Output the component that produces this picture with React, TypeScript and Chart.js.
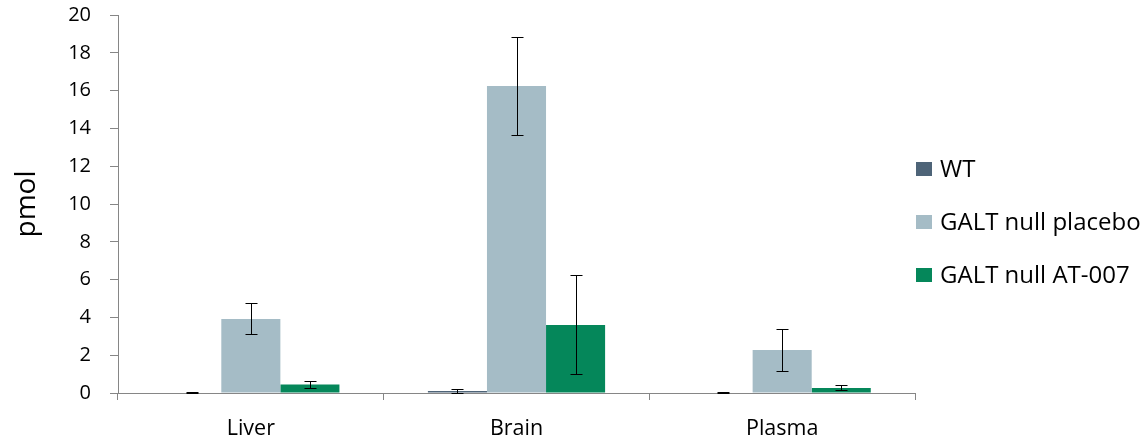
import React, { useEffect, useRef } from "react";
import { Chart, registerables } from "chart.js";

Chart.register(...registerables);

const categories = ["Liver", "Brain", "Plasma"];
const seriesNames = ["WT", "GALT null placebo", "GALT null AT-007"];
const wtValues = [0.03, 0.1, 0.02];
const placeboValues = [3.92, 16.25, 2.27];
const at007Values = [0.45, 3.6, 0.27];
const wtErr = [0.01, 0.1, 0.01];
const placeboErr = [0.82, 2.6, 1.1];
const at007Err = [0.2, 2.62, 0.13];
const yTicks = [0, 2, 4, 6, 8, 10, 12, 14, 16, 18, 20];
const colors = ["#4E6478", "#A5BCC6", "#05875A"];

const FONT = "'Open Sans', 'Noto Sans', sans-serif";

const errorBarPlugin = {
  id: "errorBars",
  afterDatasetsDraw(chart: any) {
    const ctx = chart.ctx;
    const y = chart.scales.y;
    const errs = [wtErr, placeboErr, at007Err];
    ctx.save();
    ctx.strokeStyle = "#000";
    ctx.lineWidth = 1;
    chart.data.datasets.forEach((ds: any, di: number) => {
      const meta = chart.getDatasetMeta(di);
      meta.data.forEach((bar: any, i: number) => {
        const v = ds.data[i];
        const e = errs[di][i];
        const yt = Math.round(y.getPixelForValue(v + e)) + 0.5;
        const yb = Math.round(y.getPixelForValue(Math.max(0, v - e))) + 0.5;
        const x = Math.round(bar.x) + 0.5;
        ctx.beginPath();
        ctx.moveTo(x, yt);
        ctx.lineTo(x, yb);
        ctx.moveTo(x - 6, yt);
        ctx.lineTo(x + 6, yt);
        ctx.moveTo(x - 6, yb);
        ctx.lineTo(x + 6, yb);
        ctx.stroke();
      });
    });
    ctx.restore();
  },
};

const legendPlugin = {
  id: "customLegend",
  afterDraw(chart: any) {
    const ctx = chart.ctx;
    const area = chart.chartArea;
    const x0 = area.right + 1;
    const rows = [169, 222, 275];
    ctx.save();
    ctx.font = `24px ${FONT}`;
    ctx.textBaseline = "middle";
    chart.data.datasets.forEach((ds: any, i: number) => {
      ctx.fillStyle = ds.backgroundColor;
      ctx.fillRect(x0, rows[i] - 7, 16, 14);
      ctx.fillStyle = "#000";
      ctx.fillText(ds.label, x0 + 24, rows[i] + 1);
    });
    ctx.restore();
  },
};

export default function App() {
  const ref = useRef<HTMLCanvasElement>(null);
  useEffect(() => {
    if (!ref.current) return;
    const chart = new Chart(ref.current, {
      type: "bar",
      data: {
        labels: categories,
        datasets: [
          { label: seriesNames[0], data: wtValues, backgroundColor: colors[0] },
          { label: seriesNames[1], data: placeboValues, backgroundColor: colors[1] },
          { label: seriesNames[2], data: at007Values, backgroundColor: colors[2] },
        ],
      },
      options: {
        animation: false,
        responsive: false,
        maintainAspectRatio: false,
        layout: { padding: { top: 15, right: 230, left: 0, bottom: 0 } },
        datasets: { bar: { categoryPercentage: 0.667, barPercentage: 1 } },
        plugins: { legend: { display: false }, tooltip: { enabled: false } },
        scales: {
          x: {
            grid: {
              display: true,
              drawOnChartArea: false,
              offset: true,
              tickLength: 7,
              color: "#868686",
            },
            border: { color: "#868686" },
            ticks: { color: "#000", font: { family: FONT, size: 21.5 }, padding: 16 },
            afterFit: (s: any) => {
              s.height = 50;
              s.paddingLeft = 0;
              s.paddingRight = 0;
            },
          },
          y: {
            min: 0,
            max: 20,
            afterBuildTicks: (s: any) => {
              s.ticks = yTicks.map((v) => ({ value: v }));
            },
            grid: { drawOnChartArea: false, tickLength: 8, color: "#868686" },
            border: { color: "#868686" },
            ticks: { color: "#000", font: { family: FONT, size: 20 }, padding: 19 },
            title: {
              display: true,
              text: "pmol",
              color: "#000",
              font: { family: FONT, size: 28 },
              padding: { top: 10, bottom: 0 },
            },
            afterFit: (s: any) => {
              s.width = 118;
              s.paddingTop = 0;
              s.paddingBottom = 0;
            },
          },
        },
      },
      plugins: [errorBarPlugin, legendPlugin],
    });
    return () => chart.destroy();
  }, []);
  return (
    <div style={{ position: "fixed", left: 0, top: 0, width: 1145, height: 443, background: "#fff" }}>
      <canvas ref={ref} width={1145} height={443} style={{ display: "block" }} />
    </div>
  );
}
